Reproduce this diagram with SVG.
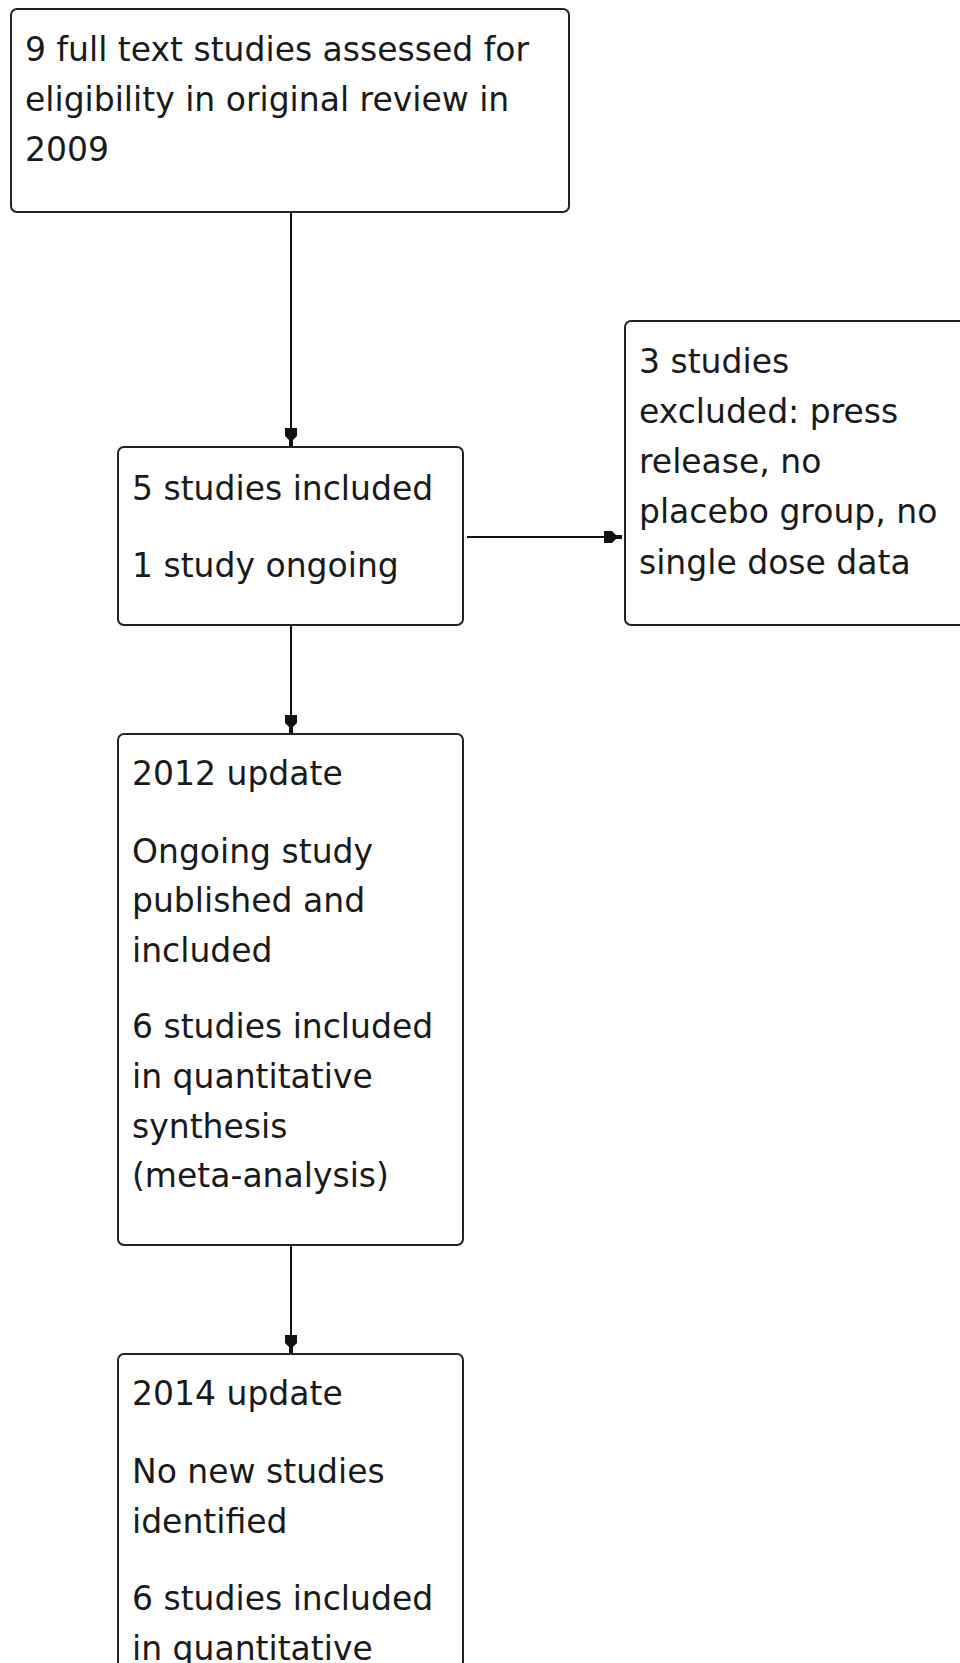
<svg xmlns="http://www.w3.org/2000/svg" width="960" height="1663" viewBox="0 0 960 1663">
<style>
.box{fill:#ffffff;stroke:#222222;stroke-width:2}
.t{font-family:"DejaVu Sans",Verdana,sans-serif;font-size:33px;fill:#1a1a1a}
.c{stroke:#111111;stroke-width:2;fill:none}
</style>
<defs>
<marker id="ah" viewBox="0 0 18 12" refX="18" refY="6" markerWidth="18" markerHeight="12" markerUnits="userSpaceOnUse" orient="auto">
<polygon points="0,0 8,0 12,4 18,4 18,8 12,8 8,12 0,12" fill="#111111"/>
</marker>
</defs>
<rect width="960" height="1663" fill="#ffffff"/>
<g id="connectors">
<line class="c" x1="291" y1="212" x2="291" y2="446" marker-end="url(#ah)"/>
<line class="c" x1="291" y1="625" x2="291" y2="733" marker-end="url(#ah)"/>
<line class="c" x1="291" y1="1245" x2="291" y2="1353" marker-end="url(#ah)"/>
<line class="c" x1="467" y1="537" x2="622" y2="537" marker-end="url(#ah)"/>
</g>
<g id="node-original">
<rect class="box" x="11" y="9" width="558" height="203" rx="6"/>
<text class="t" x="25" y="61">9 full text studies assessed for</text>
<text class="t" x="25" y="111">eligibility in original review in</text>
<text class="t" x="25" y="161">2009</text>
</g>
<g id="node-included">
<rect class="box" x="118" y="447" width="345" height="178" rx="6"/>
<text class="t" x="132" y="500">5 studies included</text>
<text class="t" x="132" y="577">1 study ongoing</text>
</g>
<g id="node-excluded">
<rect class="box" x="625" y="321" width="400" height="304" rx="6"/>
<text class="t" x="639" y="373">3 studies</text>
<text class="t" x="639" y="423">excluded: press</text>
<text class="t" x="639" y="473">release, no</text>
<text class="t" x="639" y="523">placebo group, no</text>
<text class="t" x="639" y="574">single dose data</text>
</g>
<g id="node-2012">
<rect class="box" x="118" y="734" width="345" height="511" rx="6"/>
<text class="t" x="132" y="785">2012 update</text>
<text class="t" x="132" y="863">Ongoing study</text>
<text class="t" x="132" y="912">published and</text>
<text class="t" x="132" y="962">included</text>
<text class="t" x="132" y="1038">6 studies included</text>
<text class="t" x="132" y="1088">in quantitative</text>
<text class="t" x="132" y="1138">synthesis</text>
<text class="t" x="132" y="1187">(meta-analysis)</text>
</g>
<g id="node-2014">
<rect class="box" x="118" y="1354" width="345" height="400" rx="6"/>
<text class="t" x="132" y="1405">2014 update</text>
<text class="t" x="132" y="1483">No new studies</text>
<text class="t" x="132" y="1533">identified</text>
<text class="t" x="132" y="1610">6 studies included</text>
<text class="t" x="132" y="1660">in quantitative</text>
</g>
</svg>
